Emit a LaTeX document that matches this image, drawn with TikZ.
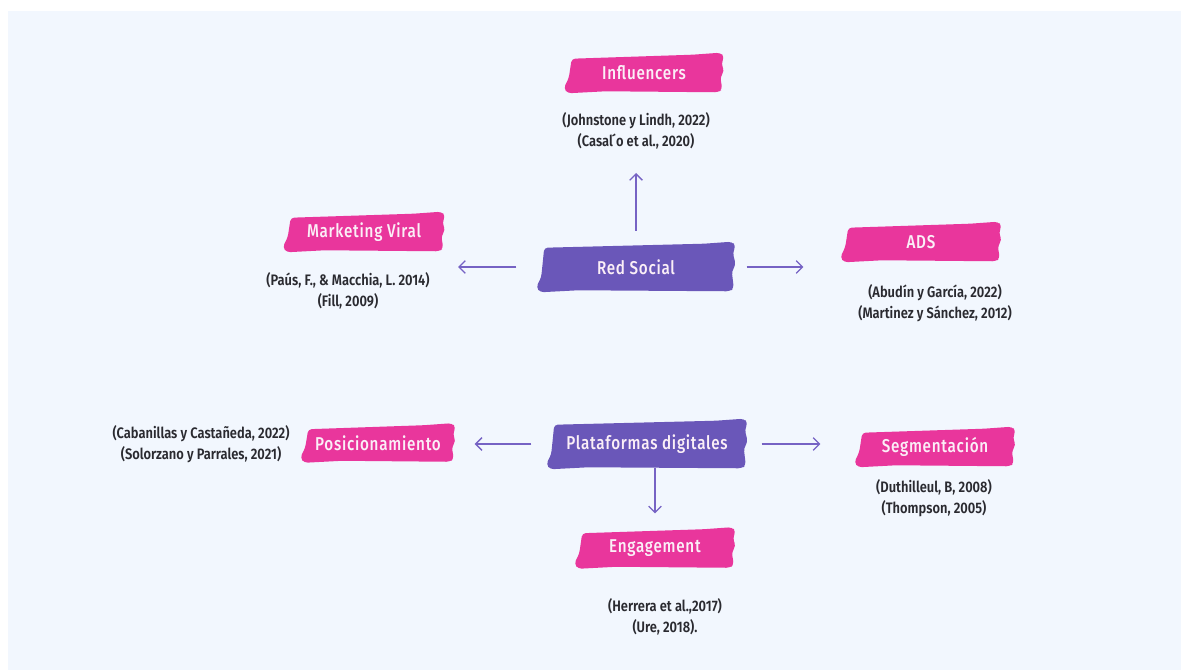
\documentclass[tikz,border=0pt]{standalone}
\usepackage{fontspec}
\setmainfont{Fira Sans}
\newfontfamily\labfont[FakeStretch=0.82,LetterSpace=4]{Fira Sans Medium}
\newfontfamily\citfont[FakeStretch=0.85]{Fira Sans SemiBold}
\usetikzlibrary{arrows.meta}
\pgfdeclarelayer{canvas}
\pgfdeclarelayer{background}
\pgfsetlayers{canvas,background,main}
\definecolor{bgblue}{HTML}{F2F7FE}
\definecolor{pinkc}{HTML}{E9369C}
\definecolor{purplec}{HTML}{6A57B9}
\definecolor{labtext}{HTML}{FBEFF7}
\definecolor{cittext}{HTML}{2A2A30}
\definecolor{arrowc}{HTML}{7663C4}
\tikzset{
  x=0.025cm, y=-0.025cm,
  lab/.style 2 args={inner sep=0pt, text=labtext, minimum width=#1*0.025cm, minimum height=#2*0.025cm,
     font=\labfont\fontsize{13.2pt}{15pt}\selectfont},
  cit/.style={inner sep=0pt, align=center, text=cittext, font=\citfont\fontsize{10.8pt}{14.8pt}\selectfont},
  arr/.style={draw=arrowc, line width=0.9pt, -{Straight Barb[length=4.5pt,width=9pt]}}
}
\newcommand{\brushbox}[2]{%
  \begin{pgfonlayer}{background}
  \fill[#2, rounded corners=2.5pt]
    ([shift={(6,5)}]#1.north west) -- ([shift={(-30,1)}]#1.north east)
    -- ([shift={(-2,-1)}]#1.north east) -- ([shift={(2,3)}]#1.north east)
    -- ([shift={(-1,10)}]#1.north east) -- ([shift={(2,-2)}]#1.east)
    -- ([shift={(-2,4)}]#1.east) -- ([shift={(0,-3)}]#1.south east)
    -- ([shift={(-4,0)}]#1.south east) -- ([shift={(40,-1)}]#1.south west)
    -- ([shift={(2,1)}]#1.south west) -- ([shift={(-2,-4)}]#1.south west)
    -- ([shift={(3,-14)}]#1.south west) -- cycle;
  \end{pgfonlayer}}
\begin{document}
\begin{tikzpicture}
\useasboundingbox (0,0) rectangle (1181,670);
\begin{pgfonlayer}{canvas}
\fill[white] (0,0) rectangle (1181,670);
\fill[bgblue] (8,11) rectangle (1181,670);
\end{pgfonlayer}

% label boxes
\node[lab={156}{38}] (inf) at (644,73) {Influencers};
\node[lab={158}{38}] (mv) at (364,232) {Marketing Viral};
\node[lab={195}{48}] (rs) at (636,267) {Red Social};
\node[lab={157}{38}] (ads) at (921,242) {ADS};
\node[lab={197}{48}] (pd) at (647,444) {Plataformas digitales};
\node[lab={151}{37}] (pos) at (378,443) {Posicionamiento};
\node[lab={157}{38}] (seg) at (935,447) {Segmentación};
\node[lab={157}{39}] (eng) at (655,548) {Engagement};

\brushbox{inf}{pinkc}
\brushbox{mv}{pinkc}
\brushbox{rs}{purplec}
\brushbox{ads}{pinkc}
\brushbox{pd}{purplec}
\brushbox{pos}{pinkc}
\brushbox{seg}{pinkc}
\brushbox{eng}{pinkc}

% citations
\node[cit] (infc) at (636,131) {(Johnstone y Lindh, 2022)\\(Casal\'{}o et al., 2020)};
\node[cit] (mvc) at (348,291) {(Paús, F., \& Macchia, L. 2014)\\(Fill, 2009)};
\node[cit] (adsc) at (935,303) {(Abudín y García, 2022)\\(Martinez y Sánchez, 2012)};
\node[cit] (posc) at (201,444) {(Cabanillas y Castañeda, 2022)\\(Solorzano y Parrales, 2021)};
\node[cit] (segc) at (934,498) {(Duthilleul, B, 2008)\\(Thompson, 2005)};
\node[cit] (engc) at (665,617) {(Herrera et al.,2017)\\(Ure, 2018).};

% connectors
\draw[arr, shorten <=8.5pt, shorten >=57.4pt] (rs.north) -- (rs.north |- inf.south);
\draw[arr, shorten <=15.6pt, shorten >=10.6pt] (rs.west) -- (rs.west -| mv.east);
\draw[arr, shorten <=9.2pt, shorten >=27.6pt] (rs.east) -- (rs.east -| ads.west);
\draw[arr, shorten <=12pt, shorten >=14.9pt] (pd.west) -- (pd.west -| pos.east);
\draw[arr, shorten <=11.3pt, shorten >=25.5pt] (pd.east) -- (pd.east -| seg.west);
\draw[arr, shorten >=10.6pt] (pd.south -| eng.north) -- (eng.north);
\end{tikzpicture}
\end{document}
